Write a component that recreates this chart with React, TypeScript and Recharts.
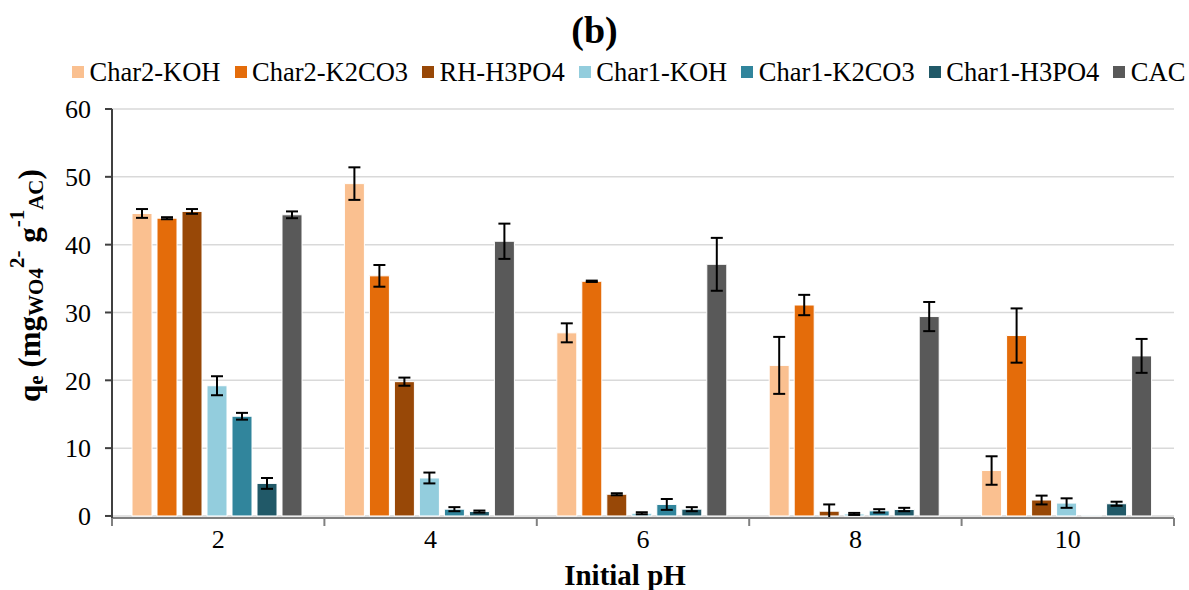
import { Bar, BarChart, CartesianGrid, ErrorBar, Legend, XAxis, YAxis } from "recharts";

const PH_LABELS = ["2", "4", "6", "8", "10"];
const Y_TICKS = [0, 10, 20, 30, 40, 50, 60];

const SERIES_NAMES = ["Char2-KOH", "Char2-K2CO3", "RH-H3PO4", "Char1-KOH", "Char1-K2CO3", "Char1-H3PO4", "CAC"];
const SERIES_COLORS = ["#FAC090", "#E46C0A", "#984807", "#93CDDD", "#31859C", "#215968", "#595959"];

const char2Koh = [44.6, 49.0, 27.0, 22.2, 6.7];
const char2K2co3 = [43.9, 35.4, 34.6, 31.1, 26.6];
const rhH3po4 = [44.9, 19.8, 3.2, 0.7, 2.35];
const char1Koh = [19.2, 5.6, 0.4, 0.3, 1.9];
const char1K2co3 = [14.7, 1.0, 1.7, 0.75, 0.1];
const char1H3po4 = [4.8, 0.65, 1.0, 0.95, 1.8];
const cac = [44.4, 40.5, 37.1, 29.4, 23.6];

const char2KohErr = [0.65, 2.4, 1.4, 4.2, 2.1];
const char2K2co3Err = [0.15, 1.6, 0.1, 1.5, 4.0];
const rhH3po4Err = [0.35, 0.6, 0.15, 1.0, 0.65];
const char1KohErr = [1.4, 0.8, 0.15, 0.15, 0.7];
const char1K2co3Err = [0.5, 0.3, 0.8, 0.25, 0];
const char1H3po4Err = [0.8, 0.15, 0.3, 0.25, 0.3];
const cacErr = [0.5, 2.6, 3.9, 2.15, 2.5];

const VALUES = [char2Koh, char2K2co3, rhH3po4, char1Koh, char1K2co3, char1H3po4, cac];
const ERRORS = [char2KohErr, char2K2co3Err, rhH3po4Err, char1KohErr, char1K2co3Err, char1H3po4Err, cacErr];

const data = PH_LABELS.map((pH, i) => {
  const row: Record<string, string | number> = { pH };
  VALUES.forEach((v, k) => {
    row[`s${k}`] = v[i];
    row[`e${k}`] = ERRORS[k][i];
  });
  return row;
});

const FONT = "'Liberation Serif', 'Times New Roman', serif";
const TICK_GAP = 12;

function PhTick(props: any) {
  const { x, y, payload, index, width, visibleTicksCount } = props;
  const bw = width / visibleTicksCount;
  const axisY = y - TICK_GAP;
  return (
    <g>
      <line x1={x - bw / 2} y1={axisY} x2={x - bw / 2} y2={axisY + 8} stroke="#808080" strokeWidth={2} />
      {index === visibleTicksCount - 1 && (
        <line x1={x + bw / 2} y1={axisY} x2={x + bw / 2} y2={axisY + 8} stroke="#808080" strokeWidth={2} />
      )}
      <text x={x} y={y} dy="0.71em" textAnchor="middle" fontSize={26} fontFamily={FONT} fill="#000">
        {payload.value}
      </text>
    </g>
  );
}

function YTitle({ viewBox }: any) {
  const cx = viewBox.x + 29;
  const cy = viewBox.y + viewBox.height / 2 - 28;
  return (
    <text
      x={cx}
      y={cy}
      transform={`rotate(-90 ${cx} ${cy})`}
      textAnchor="middle"
      dominantBaseline="central"
      fontFamily={FONT}
      fontWeight="bold"
      fontSize={31}
      fill="#000"
    >
      <tspan>q</tspan>
      <tspan fontSize={21} dy={7}>e</tspan>
      <tspan dy={-7}> (mg</tspan>
      <tspan fontSize={21} dy={7}>WO4</tspan>
      <tspan fontSize={21} dy={-19}>2-</tspan>
      <tspan dy={12}> g</tspan>
      <tspan fontSize={21} dy={-12}>-1</tspan>
      <tspan fontSize={21} dy={19}>AC</tspan>
      <tspan dy={-7}>)</tspan>
    </text>
  );
}

function XTitle({ viewBox }: any) {
  return (
    <text
      x={viewBox.x + viewBox.width / 2 - 18}
      y={viewBox.y + 67}
      textAnchor="middle"
      fontFamily={FONT}
      fontWeight="bold"
      fontSize={29}
      fill="#000"
    >
      Initial pH
    </text>
  );
}

function LegendRow() {
  return (
    <div style={{ display: "flex", alignItems: "center", height: 30, paddingLeft: 72, whiteSpace: "nowrap", fontFamily: FONT, fontSize: 26.5, color: "#000" }}>
      {SERIES_NAMES.map((name, k) => (
        <span key={name} style={{ display: "inline-flex", alignItems: "center", marginRight: 14 }}>
          <span style={{ width: 12, height: 12, background: SERIES_COLORS[k], marginRight: 5.5, display: "inline-block" }} />
          {name}
        </span>
      ))}
    </div>
  );
}

export default function App() {
  return (
    <div style={{ position: "relative", width: 1189, height: 590, background: "#fff" }}>
      <style>{"body{margin:0;}"}</style>
      <div style={{ position: "absolute", top: 11, left: 0, width: 1189, textAlign: "center", fontFamily: FONT, fontWeight: "bold", fontSize: 38, lineHeight: 1 }}>
        (b)
      </div>
      <BarChart
        width={1189}
        height={590}
        data={data}
        margin={{ top: 79, right: 15, bottom: 0, left: 0 }}
        barCategoryGap={20}
        barGap={5}
      >
        <CartesianGrid vertical={false} stroke="#D9D9D9" strokeWidth={1.5} />
        <XAxis
          dataKey="pH"
          height={72}
          tickLine={false}
          tickSize={0}
          axisLine={{ stroke: "#808080", strokeWidth: 2 }}
          tickMargin={TICK_GAP}
          tick={<PhTick />}
          interval={0}
          label={<XTitle />}
        />
        <YAxis
          width={112}
          domain={[0, 60]}
          ticks={Y_TICKS}
          interval={0}
          tickSize={7}
          tickMargin={14}
          tickLine={{ stroke: "#404040", strokeWidth: 2 }}
          axisLine={{ stroke: "#404040", strokeWidth: 2 }}
          tick={{ fontSize: 26, fontFamily: FONT, fill: "#000" }}
          label={<YTitle />}
        />
        <Legend verticalAlign="top" align="left" content={<LegendRow />} wrapperStyle={{ top: 57, left: 0, width: 1189 }} />
        {SERIES_NAMES.map((name, k) => (
          <Bar key={name} dataKey={`s${k}`} name={name} fill={SERIES_COLORS[k]} stroke="#ffffff" strokeWidth={1} isAnimationActive={false}>
            <ErrorBar dataKey={`e${k}`} direction="y" width={6} stroke="#000" strokeWidth={2} isAnimationActive={false} />
          </Bar>
        ))}
      </BarChart>
    </div>
  );
}
